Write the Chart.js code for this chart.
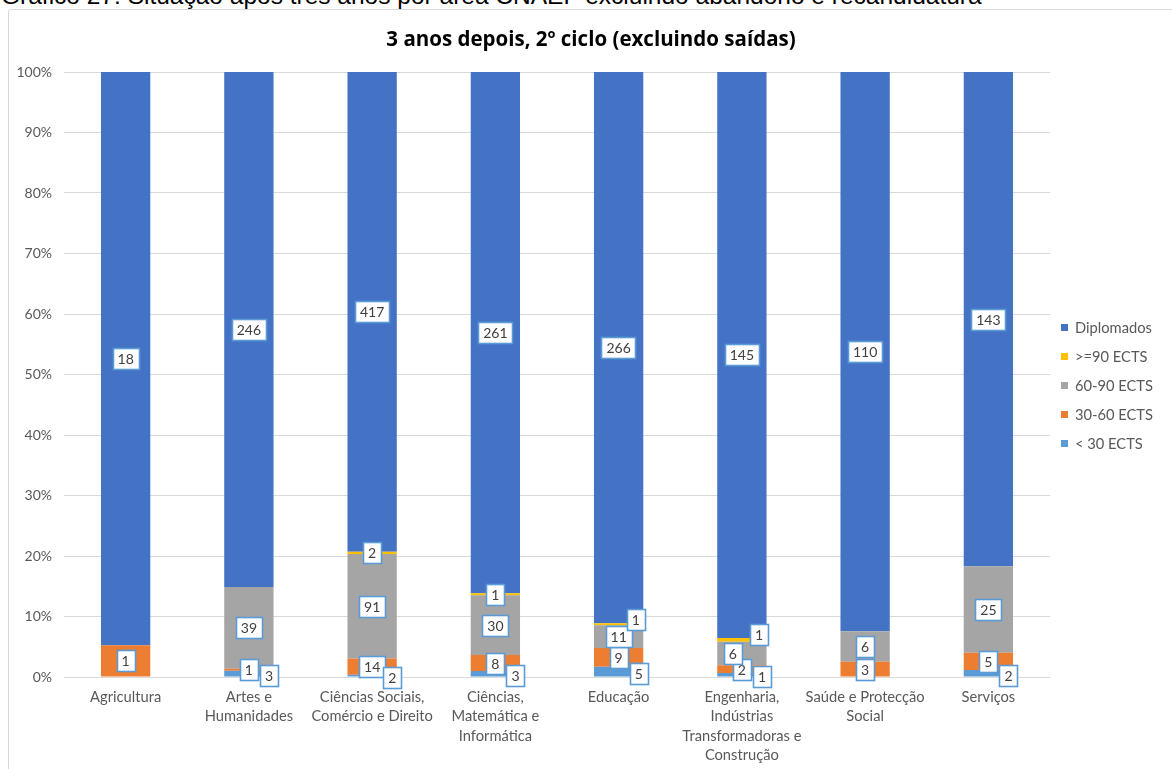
<!DOCTYPE html>
<html><head><meta charset="utf-8">
<script src="https://cdn.jsdelivr.net/npm/chart.js@4"></script>
<style>
html,body{margin:0;padding:0;background:#fff;width:1172px;height:769px;overflow:hidden;position:relative;}
#caption{position:absolute;left:1px;top:-15px;font:24.5px "Liberation Sans",Arial,sans-serif;color:#000;white-space:nowrap;line-height:22px;}
#box{position:absolute;left:8px;top:9px;width:1180px;height:790px;border:1px solid #D9D9D9;border-radius:3px;}
#wrap{position:absolute;left:0;top:0;width:1172px;height:769px;}
#legend{position:absolute;left:1061px;top:313px;font:14.7px Lato,sans-serif;color:#595959;}
.li{position:relative;height:29px;}
.li span.sw{position:absolute;left:0;top:11px;width:7px;height:7px;}
.li span.tx{position:absolute;left:14px;top:5px;line-height:19px;white-space:nowrap;}
</style></head>
<body>
<div id="caption">Gráfico 27: Situação após três anos por área CNAEF excluindo abandono e recandidatura</div>
<div id="box"></div>
<div id="wrap"><canvas id="c" width="1172" height="769"></canvas></div>
<div id="legend"></div>
<script>
const categories = [
  ["Agricultura"],
  ["Artes e","Humanidades"],
  ["Ciências Sociais,","Comércio e Direito"],
  ["Ciências,","Matemática e","Informática"],
  ["Educação"],
  ["Engenharia,","Indústrias","Transformadoras e","Construção"],
  ["Saúde e Protecção","Social"],
  ["Serviços"]
];
const lt30      = [0, 3, 2, 3, 5, 1, 0, 2];
const ects3060  = [1, 1, 14, 8, 9, 2, 3, 5];
const ects6090  = [0, 39, 91, 30, 11, 6, 6, 25];
const ge90      = [0, 0, 2, 1, 1, 1, 0, 0];
const diplomados= [18, 246, 417, 261, 266, 145, 110, 143];
const yTicks = [0,10,20,30,40,50,60,70,80,90,100];

const seriesNames = ["< 30 ECTS","30-60 ECTS","60-90 ECTS",">=90 ECTS","Diplomados"];
const seriesColors = ["#5B9BD5","#ED7D31","#A5A5A5","#FFC000","#4472C4"];
const seriesCounts = [lt30, ects3060, ects6090, ge90, diplomados];

const totals = categories.map((_, i) => seriesCounts.reduce((s, arr) => s + arr[i], 0));
const datasets = seriesCounts.map((arr, k) => ({
  label: seriesNames[k],
  data: arr.map((v, i) => v / totals[i] * 100),
  counts: arr,
  backgroundColor: seriesColors[k],
  borderWidth: 0,
  categoryPercentage: 1,
  barPercentage: 0.4
}));

const FONT = "Lato, 'Open Sans', sans-serif";

const labelPlugin = {
  id: 'boxLabels',
  afterDatasetsDraw(chart) {
    const ctx = chart.ctx;
    ctx.save();
    ctx.font = "14px " + FONT;
    ctx.textAlign = 'center';
    ctx.textBaseline = 'middle';
    const H = 21, PAD = 5;
    const nCat = categories.length;
    for (let i = 0; i < nCat; i++) {
      const placed = [];
      const info = k => {
        const el = chart.getDatasetMeta(k).data[i];
        const v = chart.data.datasets[k].counts[i];
        const t = String(v);
        const w = ctx.measureText(t).width + PAD * 2;
        return {v, t, w, x: el.x, y: (el.y + el.base) / 2};
      };
      const overlaps = (b) => placed.some(p => Math.abs(p.x - b.x) < (p.w + b.w) / 2 && Math.abs(p.y - b.y) < H - 1);
      [4, 1].forEach(k => {
        const b = info(k); if (!b.v) return;
        placed.push(b);
      });
      { const b = info(2); if (b.v) { if (overlaps(b)) b.x -= 9; placed.push(b); } }
      { const b = info(0); if (b.v) { b.x = b.x + 11 + b.w / 2; b.y += 2; placed.push(b); } }
      { const b = info(3); if (b.v) { if (overlaps(b)) { b.x = b.x + 8 + b.w / 2; b.y -= 5; } placed.push(b); } }
      placed.forEach(b => {
        const x0 = Math.round(b.x - b.w / 2) + 0.5, y0 = Math.round(b.y - H / 2) + 0.5;
        ctx.fillStyle = '#FFFFFF';
        ctx.fillRect(x0, y0, Math.round(b.w), H);
        ctx.strokeStyle = '#5B9BD5';
        ctx.lineWidth = 1.6;
        ctx.strokeRect(x0, y0, Math.round(b.w), H);
        ctx.fillStyle = '#404040';
        ctx.fillText(b.t, b.x, b.y + 1);
      });
    }
    ctx.restore();
  }
};

new Chart(document.getElementById('c'), {
  type: 'bar',
  data: { labels: categories, datasets },
  options: {
    responsive: false,
    animation: false,
    layout: { padding: { left: 10, top: 18, right: 0, bottom: 0 } },
    plugins: {
      legend: { display: false },
      tooltip: { enabled: false },
      title: {
        display: true,
        text: '3 anos depois, 2º ciclo (excluindo saídas)',
        color: '#000000',
        font: { family: "'Open Sans', sans-serif", size: 20.5, weight: 'bold', lineHeight: 1.2 },
        padding: { top: 9.7, bottom: 19.7 }
      }
    },
    scales: {
      x: {
        stacked: true,
        grid: { display: false, drawTicks: false },
        border: { display: false },
        ticks: { color: '#595959', font: { family: FONT, size: 14.7, lineHeight: 1.3 }, padding: 11, maxRotation: 0, autoSkip: false },
        afterFit: s => { s.height = 92; }
      },
      y: {
        stacked: true,
        min: 0, max: 100,
        afterBuildTicks: s => { s.ticks = yTicks.map(v => ({ value: v })); },
        grid: { color: '#D9D9D9', lineWidth: 1, drawTicks: false },
        border: { display: false },
        ticks: { color: '#595959', font: { family: FONT, size: 14 }, padding: 12, callback: v => v + '%' },
        afterFit: s => { s.width = 54; }
      },
      legendSpace: {
        type: 'linear',
        position: 'right',
        display: true,
        grid: { display: false, drawTicks: false },
        border: { display: false },
        ticks: { display: false },
        afterFit: s => { s.width = 122; }
      }
    }
  },
  plugins: [labelPlugin]
});

const lg = document.getElementById('legend');
[4,3,2,1,0].forEach(k => {
  const d = document.createElement('div'); d.className = 'li';
  d.innerHTML = '<span class="sw" style="background:' + seriesColors[k] + '"></span><span class="tx"></span>';
  d.querySelector('.tx').textContent = seriesNames[k];
  lg.appendChild(d);
});
</script>
</body></html>
